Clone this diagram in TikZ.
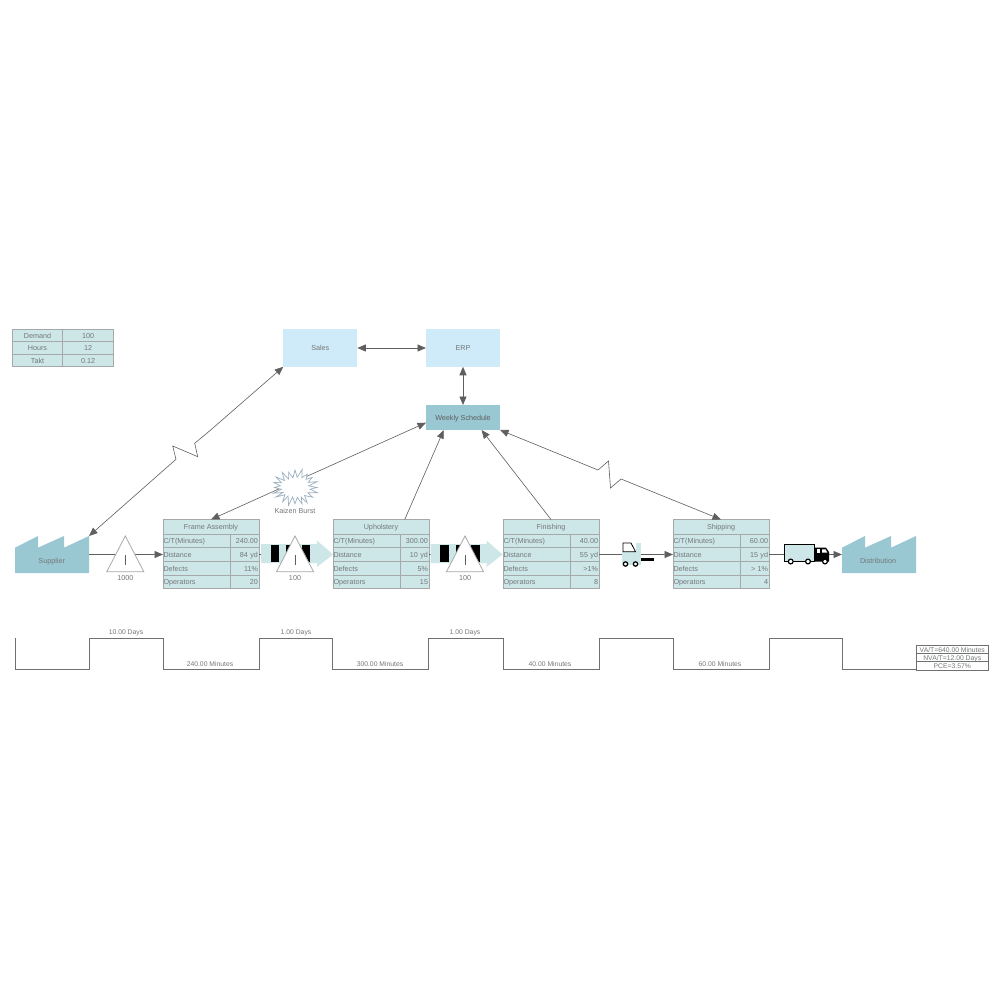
\documentclass[tikz,border=0pt]{standalone}
\usepackage{fontspec}
\setmainfont{Liberation Sans}
\usetikzlibrary{arrows.meta}
\definecolor{txt}{HTML}{73787A}
\definecolor{cellfill}{HTML}{CDE6E8}
\definecolor{cellline}{HTML}{A6A9A9}
\definecolor{teal}{HTML}{99C7D2}
\definecolor{sky}{HTML}{CFEAF8}
\definecolor{conn}{HTML}{5F5F5F}
\definecolor{stepcol}{HTML}{707070}
\definecolor{burst}{HTML}{9AAFBF}
\tikzset{
  every node/.style={font=\fontsize{7.2}{8}\selectfont,text=txt,inner sep=0pt,outer sep=0pt,text height=6.7pt,text depth=1pt},
  small/.style={font=\fontsize{6.8}{8}\selectfont},
  cell/.style={draw=cellline,fill=cellfill,line width=0.9pt,anchor=north west,minimum height=13.67pt},
  titlecell/.style={cell,minimum width=96pt,minimum height=14.5pt},
  labelcell/.style={cell,text width=66pt,inner xsep=0.5pt,align=left},
  valuecell/.style={cell,text width=27pt,inner xsep=1pt,align=right},
  demandcell/.style={cell,minimum height=12.4pt},
  sumcell/.style={small,draw=stepcol,line width=0.5pt,anchor=north west,minimum width=72.5pt,minimum height=8.33pt},
  area/.style={minimum width=74pt,minimum height=37pt},
  factory/.style={fill=teal},
  link/.style={draw=conn,line width=0.6pt},
  one/.style={link,-{Triangle[length=8.5pt,width=7pt]}},
  both/.style={link,{Triangle[length=8.5pt,width=7pt]}-{Triangle[length=8.5pt,width=7pt]}},
  thick link/.style={line width=0.9pt},
  tri/.style={draw=cellline,fill=white,line width=0.8pt,line join=miter},
  pushbody/.style={fill=cellfill},
  stepline/.style={draw=stepcol,line width=0.7pt},
  wheel/.style={draw=black,fill=white,line width=1.2pt},
}
\newcommand\procbox[7]{%
  \node[titlecell] (#1title) at (#2,519.5) {#3};
  \node[labelcell] (#1ct) at (#2,534) {C/T(Minutes)};
  \node[valuecell] (#1ctv) at (#2+67,534) {#4};
  \node[labelcell] (#1dist) at (#2,547.67) {Distance};
  \node[valuecell] (#1distv) at (#2+67,547.67) {#5};
  \node[labelcell] (#1def) at (#2,561.33) {Defects};
  \node[valuecell] (#1defv) at (#2+67,561.33) {#6};
  \node[labelcell] (#1ops) at (#2,575) {Operators};
  \node[valuecell] (#1opsv) at (#2+67,575) {#7};
}
% x of apex, label name, label text
\newcommand\inventory[3]{%
  \draw[tri] (#1,536) -- (#1+18.5,571.7) -- (#1-18.5,571.7) -- cycle;
  \draw[draw=conn,line width=0.9pt] (#1,555) -- (#1,565);
  \node (#2) at (#1,577.3) {#3};
}
% x of body start
\newcommand\pusharrow[1]{%
  \fill[pushbody] (#1,544) -- (#1+56,544) -- (#1+56,540.5) -- (#1+72,554.5) -- (#1+56,567) -- (#1+56,563) -- (#1,563) -- cycle;
  \fill[black] (#1+9.5,544.7) rectangle (#1+18,562);
  \fill[black] (#1+25,544.7) rectangle (#1+33.5,562);
  \fill[black] (#1+40.5,544.7) rectangle (#1+49,562);
}
\newcommand\factoryshape[1]{%
  \fill[factory] (#1,547.7) -- (#1+23,536) -- (#1+23,547.7) -- (#1+49,536) -- (#1+49,547.7) -- (#1+74,536) -- (#1+74,573) -- (#1,573) -- cycle;
}
\begin{document}
\begin{tikzpicture}[x=1pt,y=-1pt]
\useasboundingbox (0,0) rectangle (1000,1000);
\fill[white] (0,0) rectangle (1000,1000);

% demand table
\node[demandcell,minimum width=50.4pt] (dem) at (12.3,329.3) {Demand};
\node[demandcell,minimum width=51pt] (demv) at (62.7,329.3) {100};
\node[demandcell,minimum width=50.4pt] (hrs) at (12.3,341.7) {Hours};
\node[demandcell,minimum width=51pt] (hrsv) at (62.7,341.7) {12};
\node[demandcell,minimum width=50.4pt] (tak) at (12.3,354.1) {Takt};
\node[demandcell,minimum width=51pt] (takv) at (62.7,354.1) {0.12};

% info boxes
\node[fill=sky,minimum width=74pt,minimum height=37.5pt] (sales) at (320.3,348) {Sales};
\node[fill=sky,minimum width=74pt,minimum height=37.5pt] (erp) at (463,348) {ERP};
\node[fill=teal,minimum width=74pt,minimum height=25pt,text=conn] (weekly) at (463,417.5) {Weekly Schedule};

% process boxes
\procbox{fa}{163}{Frame Assembly}{240.00}{84 yd}{11\%}{20}
\procbox{up}{333}{Upholstery}{300.00}{10 yd}{5\%}{15}
\procbox{fi}{503}{Finishing}{40.00}{55 yd}{>1\%}{8}
\procbox{sh}{673}{Shipping}{60.00}{15 yd}{> 1\%}{4}

% factories
\factoryshape{15}
\factoryshape{842}
\node[area] (supplier) at (52,554.5) {};
\node[area] (distribution) at (879,554.5) {};
\node (suppliertext) at (51.7,561) {Supplier};
\node (distributiontext) at (878,561) {Distribution};

% push arrows
\pusharrow{261}
\pusharrow{430.5}
\coordinate (pushone) at (261,554.5);
\coordinate (pushtwo) at (430.5,554.5);
\coordinate (zone) at (210.7,430);

% forklift and truck anchors
\node[minimum width=19pt,minimum height=23pt] (lift) at (631.5,554.5) {};
\node[minimum width=30.5pt,minimum height=17.4pt] (truck) at (799.5,553) {};
\node[minimum width=14pt,minimum height=14.3pt] (truckcab) at (822,554.8) {};

% connectors
\draw[one,thick link] (supplier.east) -- (fadist.west);
\draw[link,thick link] (fadistv.east) -- (pushone);
\draw[link,thick link] (updistv.east) -- (pushtwo);
\draw[link,thick link] (fidistv.east) -- (lift.west);
\draw[one,thick link] (lift.east) -- (shdist.west);
\draw[link,thick link] (shdistv.east) -- (truck.west |- shdistv.east);
\draw[one,thick link] (truckcab.east |- distribution.west) -- (distribution.west);
\draw[both,thick link] (sales.east) -- (erp.west);
\draw[both,thick link] (erp.south) -- (weekly.north);
\draw[both] (weekly.188.5) -- (fatitle.north);
\draw[one] (uptitle.17) -- (weekly.213.3);
\draw[one] (fititle.north) -- (weekly.326.7);
\draw[both] (sales.south west) -- (zone) -- (194.7,443.3) -- (197.7,456.7) -- (172.7,446) -- (176,459.3) -- (supplier.north east);
\draw[both] (weekly.south east) -- (598,470) -- (608.5,461) -- (610.5,488) -- (621,479) -- (shtitle.north);

% inventory triangles
\inventory{125.3}{invone}{1000}
\inventory{295}{invtwo}{100}
\inventory{465}{invthree}{100}

% kaizen burst
\draw[draw=burst,fill=white,line width=0.7pt,line join=miter]
  plot[samples at={0,...,39},variable=\t]
  ({295+(mod(\t,2)==0 ? 22+1.5*sin(\t*49) : 14.5+1*cos(\t*31))*cos(\t*9)},
   {487.5+(mod(\t,2)==0 ? 17.5+1.5*cos(\t*57) : 10.5+1*sin(\t*23))*sin(\t*9)}) -- cycle;
\node (kaizen) at (295,511) {Kaizen Burst};

% forklift
\fill[cellfill] (621.7,552) rectangle (641,565);
\fill[cellfill] (636,542.5) rectangle (641,552);
\draw[draw=black,fill=white,line width=0.8pt] (623,551.7) -- (623,543) -- (631,543) -- (635.5,551.7) -- cycle;
\fill[black] (640.7,558) rectangle (654,561);
\draw[wheel] (625.5,564) circle (2.2);
\draw[wheel] (635.5,564) circle (2.2);

% truck
\draw[draw=black,fill=cellfill,line width=0.9pt] (784.5,544.5) rectangle (814.7,561.7);
\fill[black] (815,547.7) -- (826,547.7) -- (829,552) -- (829,561.5) -- (815,561.5) -- cycle;
\fill[white] (822,549.3) -- (825.5,549.3) -- (827.3,552.5) -- (822,552.5) -- cycle;
\fill[white] (817,549.3) rectangle (820,552.5);
\draw[wheel] (790.7,561.5) circle (2.4);
\draw[wheel] (808,561.5) circle (2.4);
\draw[wheel] (825,561.5) circle (2.4);

% timeline
\draw[stepline] (15.3,638) -- (15.3,669.3) -- (89,669.3) -- (89,638) -- (163,638) -- (163,669.3)
  -- (259,669.3) -- (259,638) -- (332.7,638) -- (332.7,669.3) -- (428.7,669.3) -- (428.7,638)
  -- (503,638) -- (503,669.3) -- (599,669.3) -- (599,638) -- (673,638) -- (673,669.3)
  -- (769,669.3) -- (769,638) -- (842,638) -- (842,669.3) -- (916,669.3);
\node[small] (tone) at (126,632) {10.00 Days};
\node[small] (ttwo) at (210,663.5) {240.00 Minutes};
\node[small] (tthree) at (296,632) {1.00 Days};
\node[small] (tfour) at (380,663.5) {300.00 Minutes};
\node[small] (tfive) at (465,632) {1.00 Days};
\node[small] (tsix) at (550,663.5) {40.00 Minutes};
\node[small] (tseven) at (720,663.5) {60.00 Minutes};

% summary
\node[sumcell] (va) at (916,645) {VA/T=640.00 Minutes};
\node[sumcell] (nva) at (916,653.33) {NVA/T=12.00 Days};
\node[sumcell] (pce) at (916,661.67) {PCE=3.57\%};
\end{tikzpicture}
\end{document}
